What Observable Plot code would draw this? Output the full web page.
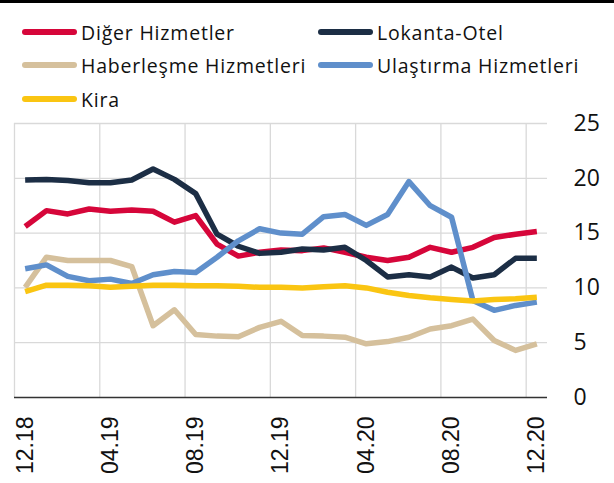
<!DOCTYPE html>
<html><head><meta charset="utf-8">
<script src="https://cdn.jsdelivr.net/npm/d3@7"></script>
<script src="https://cdn.jsdelivr.net/npm/@observablehq/plot@0.6"></script>
<style>
html,body{margin:0;padding:0;background:#fff;}
#wrap{width:614px;height:483px;position:relative;overflow:hidden;}
#topbar{position:absolute;left:0;top:0;width:614px;height:3px;background:#000;}
#legend{position:relative;width:614px;height:92px;}
.item{position:absolute;display:flex;align-items:center;height:26px;font-family:"Open Sans",sans-serif;font-size:19.5px;letter-spacing:0.8px;color:#111;white-space:nowrap;}
.sw{display:inline-block;width:55px;height:6px;border-radius:3px;margin-right:4px;}
#chart svg{display:block;}
</style>
</head><body>
<div id="wrap"><div id="topbar"></div><div id="legend"></div><div id="chart"></div></div>
<script>
const months = ["12.18","01.19","02.19","03.19","04.19","05.19","06.19","07.19","08.19","09.19","10.19","11.19","12.19","01.20","02.20","03.20","04.20","05.20","06.20","07.20","08.20","09.20","10.20","11.20","12.20"];
const tickMonths = ["12.18","04.19","08.19","12.19","04.20","08.20","12.20"];
const yTicks = [0,5,10,15,20,25];
const seriesNames = ["Diğer Hizmetler","Lokanta-Otel","Haberleşme Hizmetleri","Ulaştırma Hizmetleri","Kira"];
const seriesColors = ["#d6063a","#1c2e45","#d5c09c","#5f8fcb","#fac512"];
const diger =      [15.6,17.05,16.75,17.2,17.0,17.1,17.0,16.0,16.6,14.0,12.9,13.25,13.45,13.4,13.65,13.25,12.8,12.5,12.8,13.7,13.25,13.7,14.6,14.9,15.15];
const lokanta =    [19.85,19.9,19.8,19.6,19.6,19.85,20.85,19.9,18.6,14.9,13.8,13.15,13.25,13.55,13.45,13.7,12.5,11.0,11.2,11.0,11.9,10.9,11.2,12.7,12.7];
const haberlesme = [10.05,12.8,12.5,12.5,12.5,11.95,6.55,8.0,5.75,5.6,5.55,6.4,6.95,5.65,5.6,5.5,4.9,5.1,5.5,6.25,6.55,7.15,5.2,4.3,4.9];
const ulastirma =  [11.75,12.1,11.05,10.65,10.8,10.4,11.2,11.5,11.4,12.8,14.3,15.4,15.0,14.9,16.5,16.7,15.7,16.7,19.7,17.5,16.45,8.85,7.95,8.4,8.7];
const kira =       [9.65,10.25,10.25,10.2,10.05,10.15,10.25,10.25,10.2,10.2,10.15,10.05,10.05,10.0,10.1,10.2,10.0,9.6,9.3,9.1,8.95,8.8,8.95,9.0,9.15];
const seriesValues = [diger, lokanta, haberlesme, ulastirma, kira];

// legend
const legend = document.getElementById("legend");
const legendPos = [[22,19],[318,19],[22,52],[318,52],[22,86]];
seriesNames.forEach((name,i)=>{
  const d = document.createElement("div");
  d.className = "item";
  d.style.left = legendPos[i][0]+"px";
  d.style.top = legendPos[i][1]+"px";
  d.innerHTML = `<span class="sw" style="background:${seriesColors[i]}"></span><span>${name}</span>`;
  legend.appendChild(d);
});

const tickIdx = tickMonths.map(m => months.indexOf(m));
const gridXAll = [-0.5].concat(tickIdx.slice(1).map(i => i - 0.5));

const lineMarks = seriesValues.map((vals,si) =>
  Plot.line(vals.map((v,i)=>({i, v})), {x:"i", y:"v", stroke: seriesColors[si], strokeWidth:5.5, strokeLinejoin:"round", strokeLinecap:"butt"})
);

const chart = Plot.plot({
  width: 614,
  height: 391,
  marginTop: 31,
  marginBottom: 86,
  marginLeft: 14,
  marginRight: 67,
  x: {type:"linear", domain:[-0.5, 24.5]},
  y: {domain:[0,25]},
  style: {background:"transparent", overflow:"visible"},
  marks: [
    Plot.ruleY(yTicks.filter(t=>t>0), {stroke:"#d9d9d9", strokeWidth:1.3}),
    Plot.ruleX(gridXAll, {stroke:"#d9d9d9", strokeWidth:1.3}),
    ...lineMarks,
    Plot.ruleY([0], {stroke:"#333", strokeWidth:1.3}),
    Plot.axisY({anchor:"right", ticks:yTicks, tickSize:0, tickPadding:26, fontSize:23, fontFamily:"Open Sans", textAnchor:"start", label:null, color:"#111"}),
    Plot.axisX({ticks:tickIdx, tickFormat: i => months[i], tickRotate:-90, tickSize:0, tickPadding:19, fontSize:23, fontFamily:"Liberation Sans", label:null, color:"#111"})
  ]
});
document.getElementById("chart").appendChild(chart);
document.getElementById("chart").style.marginTop = "0px";
document.getElementById("legend").style.zIndex = "2";
document.getElementById("chart").style.position = "relative";
document.getElementById("chart").style.top = "0px";
</script>
</body></html>
